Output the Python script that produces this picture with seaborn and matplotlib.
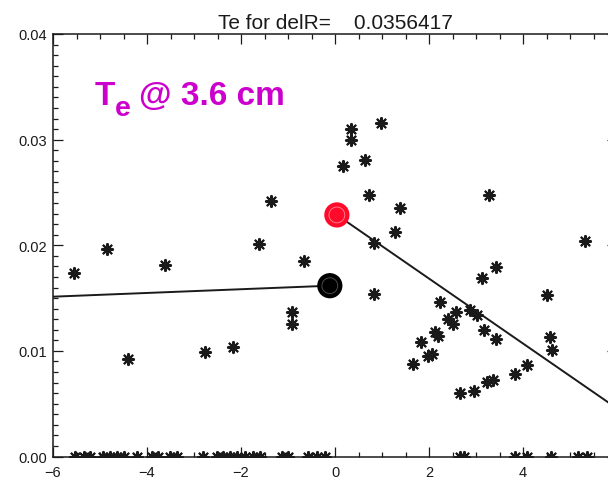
import numpy as np
import pandas as pd
import matplotlib
matplotlib.use("Agg")
import matplotlib.pyplot as plt
from matplotlib.ticker import MultipleLocator, FuncFormatter
import seaborn as sns

# Scattered Te samples (x offset, Te)
x_pts = [-5.55, -4.86, -3.61, -1.62, -1.37, -0.67, -4.41, -2.77, -2.16, -0.91, -0.91,
         0.33, 0.33, 0.98, 0.18, 0.63, 0.73, 1.38, 1.28, 0.83, 3.28, 5.32, 3.43, 3.12,
         4.52, 0.83, 2.23, 2.57, 2.87, 3.03, 2.40, 2.50, 3.17, 3.43, 4.57, 4.62, 2.12,
         2.20, 1.83, 1.98, 2.06, 1.67, 4.08, 3.83, 3.23, 3.36, 2.96, 2.67]
y_pts = [0.0174, 0.0196, 0.0181, 0.0201, 0.0242, 0.0185, 0.0092, 0.0099, 0.0104, 0.0137, 0.0125,
         0.0310, 0.0300, 0.0316, 0.0275, 0.0281, 0.0248, 0.0235, 0.0213, 0.0202, 0.0248, 0.0204, 0.0179, 0.0169,
         0.0153, 0.0154, 0.0146, 0.0137, 0.0139, 0.0134, 0.0130, 0.0125, 0.0120, 0.0111, 0.0113, 0.0101, 0.0118,
         0.0114, 0.0108, 0.0095, 0.0097, 0.0088, 0.0087, 0.0078, 0.0071, 0.0072, 0.0062, 0.0060]

# Samples with zero Te along the bottom of the range
x_zero = [-5.53, -5.35, -5.21, -4.93, -4.79, -4.64, -4.50, -4.22, -3.90, -3.76, -3.51, -3.37,
          -2.80, -2.52, -2.38, -2.23, -2.09, -1.91, -1.74, -1.60, -1.13, -0.99, -0.57, -0.39,
          -0.21, 2.65, 2.75, 3.83, 4.08, 4.60, 5.18, 5.36]

# Linear fits on each side and their end values at x ~ 0
fit_in_x = [-6.0, -0.11]
fit_in_y = [0.01513, 0.01617]
fit_out_x = [0.04, 6.0]
fit_out_y = [0.02287, 0.00455]

title_text = "Te for delR=    0.0356417"
label_main, label_sub, label_rest = "T", "e", "@ 3.6 cm"

sns.set_theme(style="ticks")
plt.rcParams["font.family"] = ["Liberation Sans", "DejaVu Sans"]

W, H = 608, 485
fig = plt.figure(figsize=(W / 100, H / 100), dpi=100)
fig.patch.set_facecolor("white")
ax = fig.add_axes([53 / W, (H - 457.5) / H, (617 - 53) / W, (457.5 - 35) / H])
ax.set_facecolor("white")

pts = pd.DataFrame({"x": x_pts + x_zero, "y": y_pts + [0.0] * len(x_zero)})
sns.scatterplot(data=pts, x="x", y="y", marker=(8, 2, 0), s=64, color="#1a1a1a",
                linewidth=1.5, ax=ax, zorder=3, legend=False)

for fx, fy in [(fit_in_x, fit_in_y), (fit_out_x, fit_out_y)]:
    sns.lineplot(x=fx, y=fy, color="#1a1a1a", linewidth=1.4, ax=ax, zorder=2,
                 estimator=None, sort=False)

ends = pd.DataFrame({"x": [fit_in_x[-1], fit_out_x[0]], "y": [fit_in_y[-1], fit_out_y[0]]})
sns.scatterplot(data=ends, x="x", y="y", hue=["in", "out"],
                palette={"in": "#000000", "out": "#ff0a2a"}, marker="o", s=330,
                linewidth=0, ax=ax, zorder=4, legend=False)
sns.scatterplot(data=ends, x="x", y="y", marker="o", s=130, facecolor="none",
                edgecolor=["#555555", "#ff8a9a"], linewidth=0.6, ax=ax, zorder=5, legend=False)

ax.set_xlim(-6, 6)
ax.set_ylim(0, 0.04)
ax.xaxis.set_major_locator(MultipleLocator(2))
ax.xaxis.set_minor_locator(MultipleLocator(0.5))
ax.yaxis.set_major_locator(MultipleLocator(0.01))
ax.yaxis.set_minor_locator(MultipleLocator(0.001))
ax.xaxis.set_major_formatter(FuncFormatter(
    lambda v, p: "" if v > 5 else f"{v:.0f}".replace("-", "\u2212")))
ax.yaxis.set_major_formatter(FuncFormatter(lambda v, p: f"{v:.2f}"))
ax.tick_params(which="both", direction="in", top=True, right=True, width=0.9,
               colors="#1a1a1a", labelsize=10.5)
ax.tick_params(which="major", length=7.2)
ax.tick_params(which="minor", length=3.6)
ax.tick_params(axis="x", pad=6)
ax.tick_params(axis="y", pad=4.5)
for s in ax.spines.values():
    s.set_linewidth(1.1)
    s.set_color("#1a1a1a")
ax.set_xlabel("")
ax.set_ylabel("")

ax.set_title(title_text, fontsize=15, color="#1a1a1a", pad=4)

# Magenta annotation: "T" with a lowered subscript "e", then the rest
magenta = "#cc00cc"
lbl_size = 24
fig.canvas.draw()
rend = fig.canvas.get_renderer()
t1 = fig.text(95 / W, (H - 105) / H, label_main, color=magenta, fontsize=lbl_size,
              fontweight="bold", ha="left", va="baseline")
b1 = t1.get_window_extent(rend)
t2 = fig.text((b1.x1 - 1) / W, (H - 116) / H, label_sub, color=magenta,
              fontsize=lbl_size * 0.85, fontweight="bold", ha="left", va="baseline")
b2 = t2.get_window_extent(rend)
fig.text((b2.x1 + 9) / W, (H - 105) / H, label_rest, color=magenta, fontsize=lbl_size,
         fontweight="bold", ha="left", va="baseline")

fig.savefig("out.png", dpi=100)
